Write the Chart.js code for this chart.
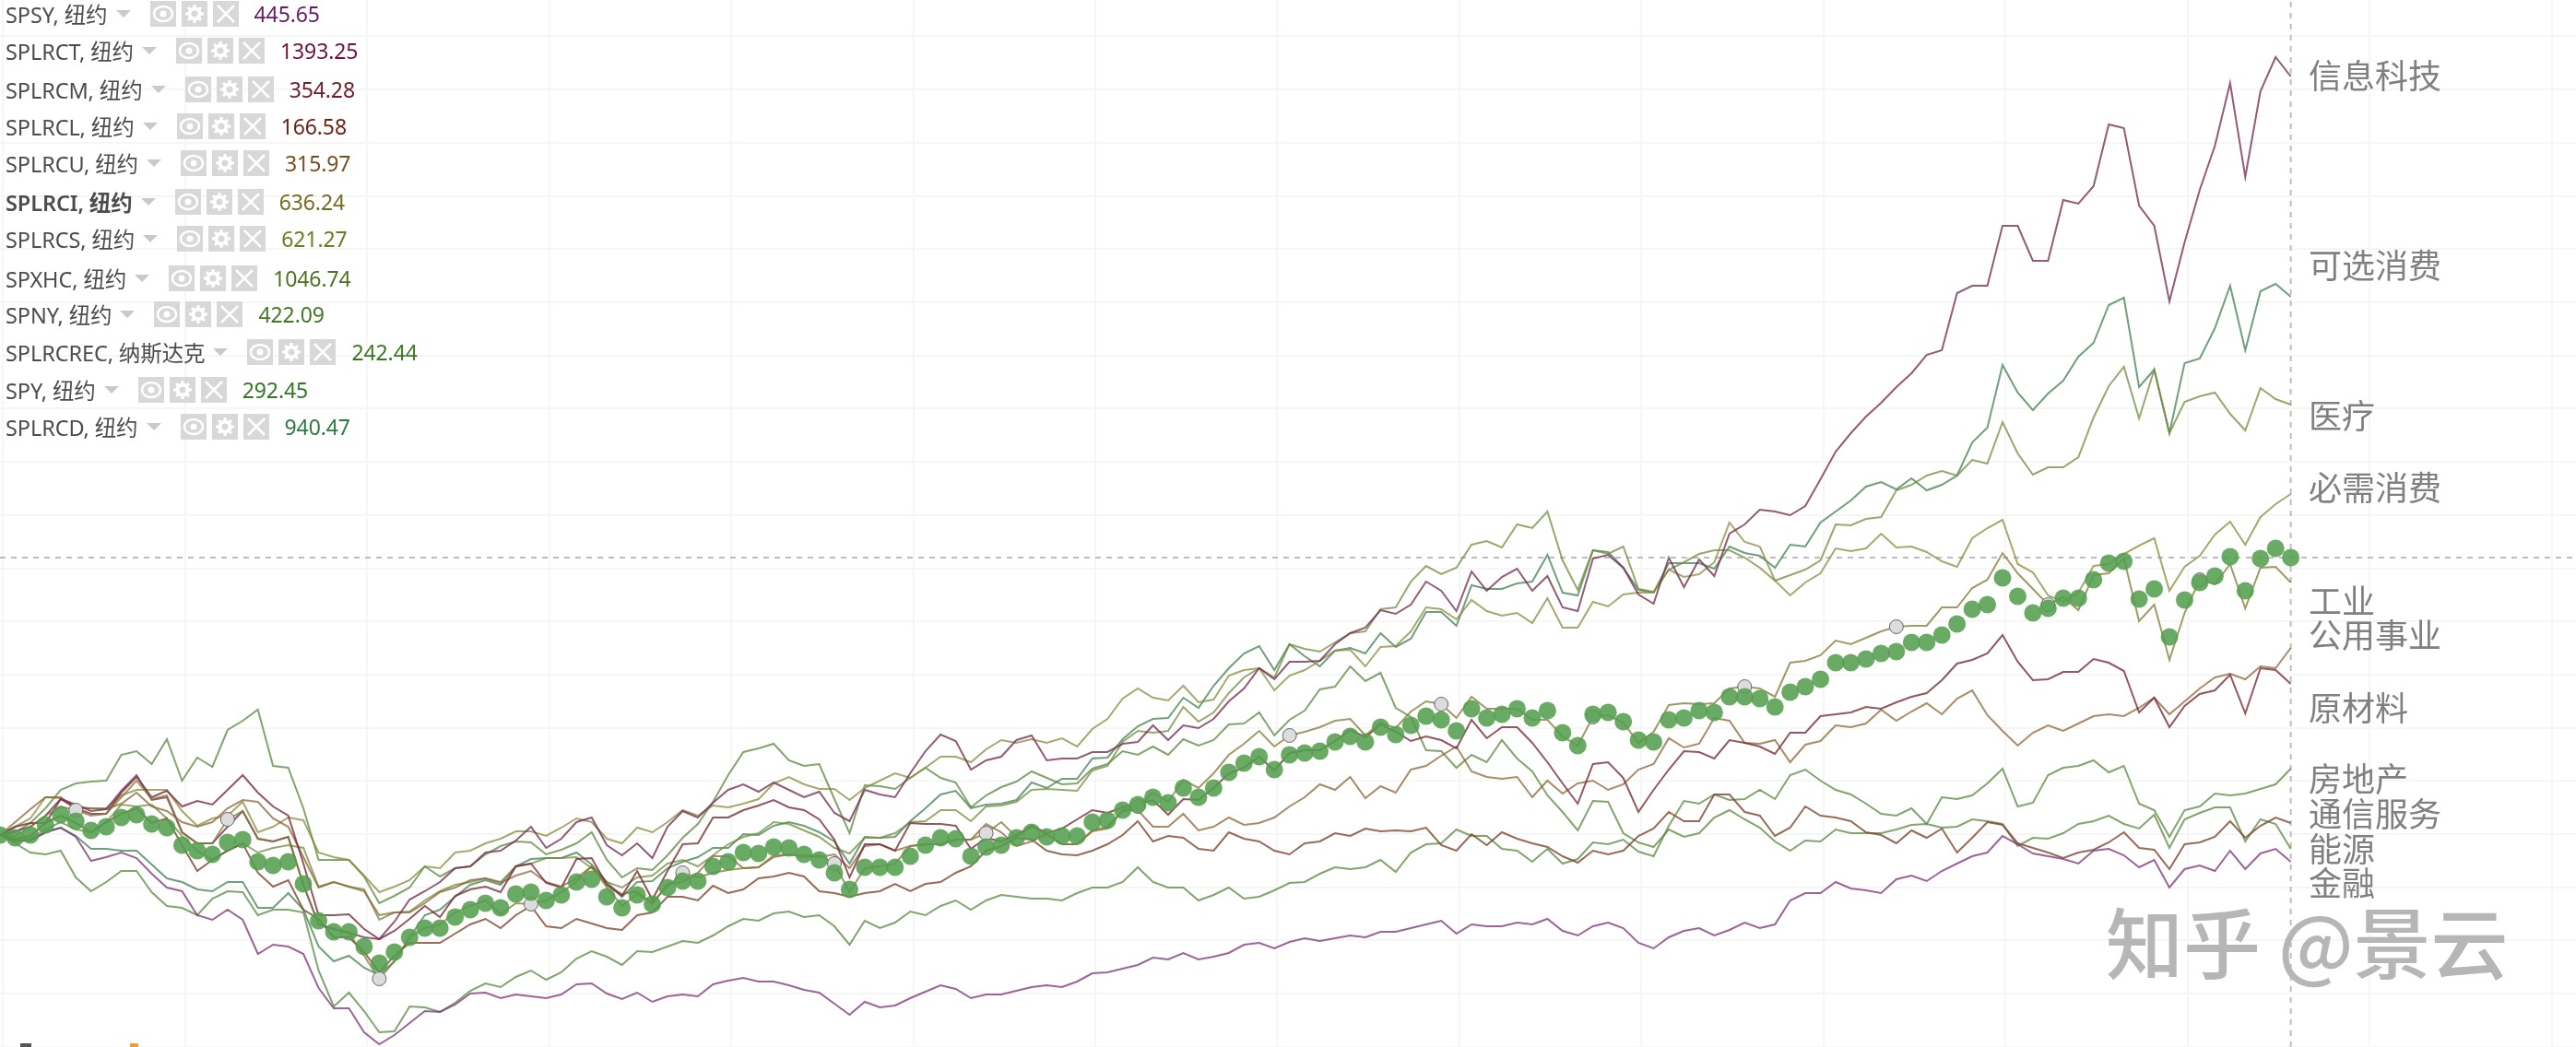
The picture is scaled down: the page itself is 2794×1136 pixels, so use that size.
<!DOCTYPE html>
<html>
<head>
<meta charset="utf-8">
<title>板块走势</title>
<script src="https://cdn.jsdelivr.net/npm/chart.js@4"></script>
<style>
    html, body { margin: 0; padding: 0; background: #fff; }
    #wrap { position: relative; width: 2794px; height: 1136px; overflow: hidden; font-family: "Noto Sans", "Noto Sans CJK SC", sans-serif; }
    canvas { position: absolute; left: 0; top: 0; }
    .row { position: absolute; left: 6px; height: 28px; display: flex; align-items: center; white-space: nowrap; font-size: 23.5px; letter-spacing: -0.1px; color: #4c4c4c; }
    .row.bold { font-weight: 600; }
    .caret { width: 0; height: 0; margin-left: 9px; border-left: 8px solid transparent; border-right: 8px solid transparent; border-top: 8px solid #c9c9c9; }
    .btn { width: 28px; height: 28px; margin-left: 6px; background: #d8d8d8; display: block; }
    .btn.first { margin-left: 21px; }
    .val { margin-left: 17px; font-size: 23px; font-weight: 400; }
    .sector { position: absolute; left: 2504px; font-size: 36px; line-height: 40px; color: #808080; font-family: "Noto Sans CJK SC", sans-serif; }
    #mark { position: absolute; left: 2284px; top: 965px; font-size: 84px; line-height: 110px; color: #b6b6b6; font-weight: 500; white-space: pre; font-family: "Noto Sans CJK SC", sans-serif; }
    .speck { position: absolute; top: 1132px; height: 4px; }
</style>
</head>
<body>
<div id="wrap">
    <canvas id="sectorChart" width="2794" height="1136"></canvas>
    <div id="legend"></div>
    <div id="sectors"></div>
    <div id="mark">知乎 @景云</div>
    <div class="speck" style="left:22px;width:12px;background:#555"></div>
    <div class="speck" style="left:141px;width:9px;background:#f0a030"></div>
</div>
<script>
// relative performance, rebased to 0 at the first bar, one value per bar (152 bars)
const spsy = [
    -1,-7,-7,2,7,-3,-29,-25,-20,-26,-43,-58,-62,-88,-93,-82,-93,-130,-120,-122,-130,-167,-189,-189,-215,-228,-218,-205,-192,-193,-185,-173,-172,-178,-174,-176,-178,-174,-163,-162,-173,-179,-172,
    -182,-176,-174,-176,-163,-159,-156,-160,-160,-164,-169,-172,-184,-196,-182,-188,-186,-178,-171,-164,-168,-178,-174,-174,-170,-166,-164,-166,-160,-151,-150,-146,-142,-134,-136,-129,-136,-133,-129,-120,-118,-124,-117,
    -113,-116,-113,-110,-112,-106,-106,-102,-98,-94,-108,-98,-100,-100,-96,-98,-92,-105,-110,-100,-96,-102,-118,-124,-112,-105,-102,-110,-104,-96,-102,-98,-72,-64,-64,-52,-59,-61,-64,-49,-45,-51,
    -40,-32,-24,-20,-2,-11,-21,-24,-27,-32,-18,-16,-23,-36,-28,-58,-38,-34,-40,-18,-38,-21,-16,-30
];
const splrct = [
    -1,3,8,20,38,32,25,27,47,64,37,40,2,-10,-10,8,25,-5,-8,-3,-55,-98,-103,-107,-112,-114,-95,-71,-62,-52,-37,-35,-20,-18,-7,8,-15,-5,13,18,-12,-23,-10,
    -26,8,25,18,34,48,54,46,56,48,40,46,23,14,48,43,40,66,90,108,101,70,80,84,102,107,80,82,82,89,89,98,100,118,102,118,115,125,144,158,180,168,187,
    187,188,206,218,224,243,239,249,274,264,242,285,264,279,288,264,280,246,242,299,303,289,260,250,300,268,298,280,326,336,352,350,346,356,385,415,435,453,468,485,500,520,
    525,587,595,595,660,660,622,622,688,684,703,770,766,682,660,578,642,699,747,815,713,806,843,822
];
const splrcm = [
    -1,8,12,12,38,28,22,22,45,62,40,47,30,36,32,48,64,45,30,20,-32,-88,-88,-87,-103,-114,-105,-92,-78,-90,-67,-60,-57,-63,-35,-32,-53,-58,-27,-26,-55,-67,-40,
    -71,-40,-11,-10,18,18,26,31,37,29,26,16,-6,-47,-11,-11,-18,12,11,11,9,-16,-4,-8,-1,9,1,6,16,26,23,29,33,37,21,38,37,50,66,72,84,69,88,
    91,91,101,113,105,119,111,101,106,102,93,124,104,116,116,99,78,55,33,76,78,61,24,48,70,90,89,82,102,99,95,87,110,110,128,130,132,138,136,143,149,153,
    167,185,189,196,216,187,167,168,176,176,190,186,177,132,148,116,139,152,156,173,131,180,178,163
];
const splrcl = [
    -1,-5,-2,12,20,12,2,13,22,28,12,17,-12,-40,-28,-18,-10,-42,-57,-50,-82,-92,-112,-112,-128,-150,-132,-118,-118,-118,-108,-98,-92,-102,-88,-78,-100,-102,-92,-97,-102,-104,-88,
    -85,-68,-68,-72,-56,-64,-60,-48,-46,-42,-46,-62,-64,-68,-64,-62,-54,-62,-54,-52,-42,-35,-18,-13,-4,-6,-18,-22,-23,-18,-11,-1,14,-8,-2,-4,-16,-18,2,-5,-8,-18,-22,
    -10,-8,1,-2,6,3,4,3,7,-12,-18,0,-12,2,-5,-10,-14,-24,-31,-18,-22,-18,-2,6,24,14,14,43,43,24,20,-2,7,30,20,18,14,2,-1,-10,4,-4,
    6,-20,-4,13,10,-10,-15,-20,-26,-20,-17,-9,2,-15,-17,-38,-11,-9,-3,14,-4,9,18,12
];
const splrcu = [
    -1,13,27,40,40,28,28,27,33,45,30,25,13,8,13,28,37,35,17,8,-25,-58,-52,-57,-62,-88,-85,-85,-75,-63,-58,-50,-48,-53,-45,-40,-52,-57,-48,-35,-55,-65,-62,
    -76,-54,-52,-42,-24,-24,-37,-36,-25,-22,-23,-25,-22,-37,-13,-11,-18,-13,-11,-11,-6,-6,11,2,-13,-8,0,-11,-11,4,8,25,26,8,8,22,4,8,18,10,12,18,30,
    40,54,48,62,39,52,45,70,74,85,95,68,62,60,62,40,58,44,55,58,48,54,70,76,104,94,98,126,123,99,98,102,78,97,101,118,116,120,135,123,133,142,
    130,147,156,129,112,96,110,118,112,120,128,130,128,137,148,130,144,158,170,174,168,182,180,202
];
const splrci = [
    -1,-2,8,20,30,26,20,22,40,58,38,42,2,-10,-10,16,25,-5,-8,-3,-55,-98,-103,-107,-132,-157,-138,-112,-102,-98,-85,-78,-72,-87,-75,-76,-72,-63,-52,-35,-58,-78,-65,
    -74,-57,-42,-47,-42,-39,-37,-36,-23,-22,-25,-23,-32,-63,-37,-35,-32,-13,-11,-11,-6,-6,1,13,-3,8,0,-11,-11,3,6,26,30,45,35,59,50,66,86,98,112,95,107,
    111,116,123,125,107,121,115,133,144,141,126,149,136,136,136,124,124,106,96,127,129,121,99,111,140,142,141,142,158,160,158,149,186,188,194,210,206,213,220,225,226,226,
    246,246,267,276,305,283,266,249,257,243,281,283,299,231,249,189,240,276,271,293,245,289,290,273
];
const splrcs = [
    -1,8,17,40,39,30,28,28,42,48,48,48,25,9,17,20,35,2,8,18,15,-20,-25,-28,-45,-63,-57,-50,-35,-37,-20,-18,-10,-5,3,3,-2,7,17,13,-5,-10,7,
    2,13,26,20,31,29,33,38,55,62,54,49,49,37,50,58,66,61,72,84,84,78,92,102,99,103,99,104,95,114,125,147,158,148,145,161,143,146,172,178,180,156,172,
    178,188,199,200,182,203,204,220,246,244,233,254,242,237,240,229,256,224,224,252,247,260,262,262,287,279,282,295,338,317,312,275,259,273,283,310,307,310,326,311,312,306,
    296,290,321,332,341,293,284,259,252,262,291,293,304,313,321,264,290,302,325,339,314,344,358,369
];
const spxhc = [
    -1,-5,-5,5,13,5,2,13,32,30,32,17,-2,-18,-28,-18,-10,-20,-15,-12,-15,-57,-52,-57,-60,-93,-85,-84,-72,-62,-55,-52,-48,-52,-35,-32,-26,-26,-25,-37,-52,-58,-47,
    -45,-32,-28,-35,-23,-11,-3,1,13,11,4,-3,-15,-21,-4,-4,1,13,14,26,26,14,30,31,35,48,49,48,47,69,74,100,112,110,112,138,122,132,153,170,180,170,206,
    201,198,208,218,220,244,246,274,291,282,289,314,318,311,336,332,350,297,265,308,304,312,266,263,287,295,304,308,308,300,289,275,281,287,297,336,335,342,344,373,379,389,
    394,389,406,402,447,413,390,398,398,409,452,486,507,451,504,435,469,475,479,456,438,484,472,466
];
const spny = [
    -1,2,12,28,48,55,57,58,86,90,76,103,58,83,73,113,123,135,74,72,28,-28,-28,-28,-46,-75,-67,-58,-35,-46,-37,-35,-22,-13,-8,-9,-22,-17,-10,2,-28,-47,-37,
    -39,-23,-4,11,35,64,89,93,98,80,74,76,38,1,53,52,49,61,72,61,56,29,42,51,57,68,61,54,55,71,76,90,86,95,86,103,96,102,119,120,132,107,124,
    134,157,160,182,166,175,137,127,91,90,72,86,78,102,82,68,42,24,4,36,35,1,-9,-14,5,-3,1,18,26,16,7,-8,-18,-7,-8,5,1,1,1,5,10,11,
    7,8,16,14,11,-13,-4,-5,1,11,14,20,11,6,21,-15,16,23,29,29,-8,16,11,-16
];
const splrcrec = [
    -1,-10,-20,-22,-18,-47,-62,-52,-40,-40,-63,-78,-80,-88,-70,-62,-63,-88,-82,-82,-85,-148,-187,-172,-192,-215,-214,-187,-188,-193,-183,-170,-162,-166,-155,-148,-158,-150,-135,-127,-133,-142,-127,
    -128,-122,-116,-118,-110,-100,-92,-94,-86,-84,-90,-88,-100,-120,-94,-102,-96,-84,-88,-78,-72,-82,-72,-66,-68,-70,-70,-72,-64,-58,-58,-52,-36,-52,-58,-58,-72,-66,-58,-70,-68,-61,-53,
    -52,-43,-36,-38,-36,-28,-41,-20,-11,-10,5,-2,-2,-16,-18,-30,-16,-32,-27,-9,-11,-6,-19,-24,9,36,33,43,37,38,48,38,64,70,58,48,43,33,22,20,28,11,
    40,38,42,55,71,30,34,64,72,74,80,67,74,33,26,-3,26,30,44,42,44,49,54,71
];
const spy = [
    -1,-4,-1,10,21,14,4,8,18,21,11,7,-12,-18,-22,-9,-6,-30,-34,-30,-54,-94,-106,-106,-122,-140,-128,-112,-102,-102,-90,-82,-75,-80,-65,-63,-72,-66,-52,-49,-68,-80,-66,
    -76,-58,-51,-51,-35,-30,-20,-21,-14,-15,-22,-28,-42,-60,-36,-36,-36,-24,-12,-4,-5,-24,-14,-12,-4,2,-3,-2,-2,13,15,26,32,40,34,50,40,50,67,77,84,70,86,
    88,90,100,106,100,116,108,118,128,124,112,136,126,130,136,126,134,110,96,130,132,122,102,100,124,126,134,132,149,149,147,138,154,160,168,186,186,190,196,198,208,208,
    216,228,244,249,278,258,240,245,256,256,276,294,296,255,266,214,254,273,280,301,264,299,310,300
];
const splrcd = [
    -1,-8,-7,2,7,-2,-16,-16,-18,-18,-33,-48,-52,-60,-62,-52,-52,-80,-80,-64,-82,-122,-138,-132,-145,-153,-138,-112,-88,-82,-68,-55,-50,-55,-35,-27,-26,-26,-20,-33,-52,-68,-52,
    -51,-37,-30,-25,-15,-15,0,-1,9,13,9,2,-8,-32,-3,-4,-3,14,28,43,47,28,32,33,37,56,50,60,60,82,83,103,117,125,126,148,137,161,180,196,204,178,206,
    193,182,199,202,196,218,203,212,241,241,226,270,266,266,272,274,303,262,259,308,306,289,265,262,294,294,294,288,312,305,302,289,314,312,338,350,362,377,382,374,386,373,
    379,389,425,441,509,479,460,478,492,518,533,574,582,485,504,435,511,516,549,595,525,589,597,583
];

const legendNames = ['SPSY, 纽约','SPLRCT, 纽约','SPLRCM, 纽约','SPLRCL, 纽约','SPLRCU, 纽约','SPLRCI, 纽约','SPLRCS, 纽约','SPXHC, 纽约','SPNY, 纽约','SPLRCREC, 纳斯达克','SPY, 纽约','SPLRCD, 纽约'];
const legendValues = ['445.65','1393.25','354.28','166.58','315.97','636.24','621.27','1046.74','422.09','242.44','292.45','940.47'];
const legendColors = ['#651a63','#6b1240','#6e1a2a','#6c2314','#7a4e20','#776a20','#6e7a20','#4f7020','#3f7a20','#3a7a20','#2f7a22','#2f7a40'];
const legendTops = [1,41,83,123,163,205,245,288,327,368,409,449];

const sectorNames = ['信息科技','可选消费','医疗','必需消费','工业','公用事业','原材料','房地产','通信服务','能源','金融'];
const sectorTops = [60,266,429,507,630,667,746,823,861,899,936];

const xGrid = [0.2,12.2,24.2,36.2,48.2,60.2,72.2,84.2,96.2,108.2,120.2,132.2,144.2,156.2,168.2];
const yGrid = [865.5,807.8,750.1,692.4,634.7,577,519.3,461.6,403.9,346.2,288.5,230.8,173.1,115.4,57.7,0,-57.7,-115.4,-173.1,-230.8];
const crossBar = 151;
const crossValue = 300;
const xMax = 169.8, yMin = -231, yMax = 905;

const pts = arr => arr.map((y, x) => ({ x, y }));

function lineSet(label, data, color) {
    return { label, data: pts(data), borderColor: color, borderWidth: 2, pointRadius: 0, tension: 0, order: 5 };
}

const eye = '<svg class="btn first" viewBox="0 0 28 28"><ellipse cx="14" cy="14" rx="10" ry="8" fill="none" stroke="#fff" stroke-width="2.5"/><circle cx="14" cy="14" r="3.5" fill="#fff"/></svg>';
const gear = '<svg class="btn" viewBox="0 0 28 28"><circle cx="14" cy="14" r="5.5" fill="none" stroke="#fff" stroke-width="4"/><path d="M14 4v5M14 19v5M4 14h5M19 14h5M7 7l3.5 3.5M17.5 17.5L21 21M21 7l-3.5 3.5M10.5 17.5L7 21" stroke="#fff" stroke-width="3"/></svg>';
const cross = '<svg class="btn" viewBox="0 0 28 28"><path d="M5 5L23 23M23 5L5 23" stroke="#fff" stroke-width="2.5"/></svg>';

// legend rows top left
const legendBox = document.getElementById('legend');
legendNames.forEach((name, i) => {
    const row = document.createElement('div');
    row.className = 'row' + (name.startsWith('SPLRCI') ? ' bold' : '');
    row.style.top = legendTops[i] + 'px';
    row.innerHTML = '<span>' + name + '</span><span class="caret"></span>' + eye + gear + cross +
        '<span class="val" style="color:' + legendColors[i] + '">' + legendValues[i] + '</span>';
    legendBox.appendChild(row);
});

const sectorBox = document.getElementById('sectors');
sectorNames.forEach((name, i) => {
    const el = document.createElement('div');
    el.className = 'sector';
    el.style.top = sectorTops[i] + 'px';
    el.textContent = name;
    sectorBox.appendChild(el);
});

const dashed = (data) => ({ data, borderColor: '#bdbdbd', borderWidth: 2, borderDash: [6, 6], pointRadius: 0, order: 20 });

new Chart(document.getElementById('sectorChart'), {
    type: 'line',
    data: {
        datasets: [
            {
                label: 'SPY', data: pts(spy), showLine: false, order: 1, clip: false,
                pointRadius: 9.5, pointBorderWidth: 0, pointBackgroundColor: 'rgba(84,158,78,0.88)'
            },
            {
                label: 'SPLRCI', data: pts(splrci), borderColor: 'rgba(130,120,50,0.75)', borderWidth: 2, order: 2,
                pointRadius: c => (c.dataIndex % 10 === 5 ? 7.5 : 0),
                pointBackgroundColor: '#dcdcdc', pointBorderColor: '#666', pointBorderWidth: 1
            },
            lineSet('SPSY', spsy, 'rgba(122,50,120,0.75)'),
            lineSet('SPLRCT', splrct, 'rgba(120,50,85,0.8)'),
            lineSet('SPLRCM', splrcm, 'rgba(120,45,55,0.8)'),
            lineSet('SPLRCL', splrcl, 'rgba(125,70,45,0.8)'),
            lineSet('SPLRCU', splrcu, 'rgba(140,100,55,0.75)'),
            lineSet('SPLRCS', splrcs, 'rgba(135,140,60,0.75)'),
            lineSet('SPXHC', spxhc, 'rgba(115,140,60,0.75)'),
            lineSet('SPNY', spny, 'rgba(90,135,60,0.75)'),
            lineSet('SPLRCREC', splrcrec, 'rgba(85,135,60,0.75)'),
            lineSet('SPLRCD', splrcd, 'rgba(75,135,90,0.8)'),
            dashed([{ x: 0, y: crossValue }, { x: xMax, y: crossValue }]),
            dashed([{ x: crossBar, y: yMin }, { x: crossBar, y: yMax }])
        ]
    },
    options: {
        responsive: false,
        animation: false,
        layout: { padding: 0, autoPadding: false },
        plugins: { legend: { display: false }, tooltip: { enabled: false } },
        scales: {
            x: {
                type: 'linear', min: 0, max: xMax,
                border: { display: false },
                ticks: { display: false },
                grid: { color: '#f6f6f7', lineWidth: 2, drawTicks: false, tickLength: 0 },
                afterFit: axis => { axis.height = 0; axis.paddingLeft = 0; axis.paddingRight = 0; },
                afterBuildTicks: axis => { axis.ticks = xGrid.map(value => ({ value })); }
            },
            y: {
                type: 'linear', min: yMin, max: yMax,
                border: { display: false },
                ticks: { display: false },
                grid: { color: '#f6f6f7', lineWidth: 2, drawTicks: false, tickLength: 0 },
                afterFit: axis => { axis.width = 0; axis.paddingTop = 0; axis.paddingBottom = 0; },
                afterBuildTicks: axis => { axis.ticks = yGrid.map(value => ({ value })); }
            }
        }
    }
});
</script>
</body>
</html>
